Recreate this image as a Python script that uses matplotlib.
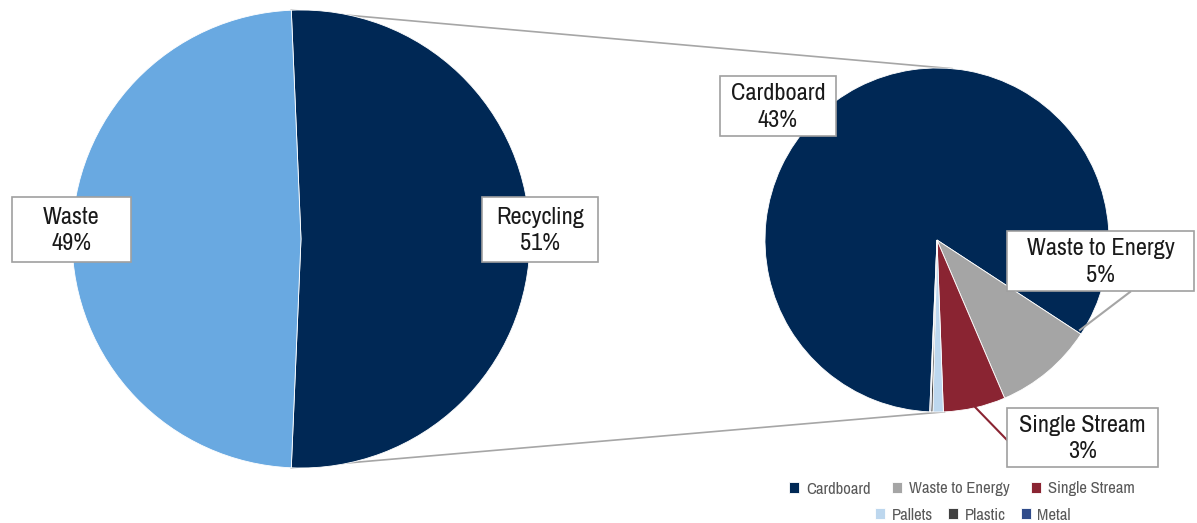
import numpy as np
import matplotlib
matplotlib.use('Agg')
import matplotlib.pyplot as plt
from matplotlib.patches import Rectangle
from matplotlib import font_manager as fm

W, H = 1197, 523

# main pie
main_labels = ['Recycling', 'Waste']
main_values = [51.35, 48.65]
main_colors = ['#002855', '#69A9E1']

# breakdown of recycling (share of total)
sub_labels = ['Cardboard', 'Waste to Energy', 'Single Stream', 'Pallets', 'Plastic', 'Metal']
sub_values = [42.9, 4.8, 3.0, 0.5, 0.1, 0.05]
sub_colors = ['#002855', '#A5A5A5', '#8A2432', '#BDD7EE', '#404040', '#2F4B8A']

# look for a narrow font, otherwise plain DejaVu
narrow = None
for f in fm.fontManager.ttflist:
    nm = (f.name + ' ' + f.fname).lower()
    if ('condensed' in nm or 'narrow' in nm) and f.weight in (400, 'normal', 'regular') \
            and f.style == 'normal' and 'light' not in nm and 'bold' not in nm:
        narrow = f
        if 'roboto' in nm or 'narrow' in nm:
            break
if narrow is not None:
    lab_font = fm.FontProperties(fname=narrow.fname, size=17.5)
    leg_font = fm.FontProperties(fname=narrow.fname, size=12)
else:
    lab_font = fm.FontProperties(family='DejaVu Sans', size=13)
    leg_font = fm.FontProperties(family='DejaVu Sans', size=9.5)

fig = plt.figure(figsize=(W / 100, H / 100), dpi=100)
ax = fig.add_axes([0, 0, 1, 1])

def py(y):
    # pixel row (from top) -> data y
    return H - y

c1 = (301, py(239)); r1 = 229
c2 = (937, py(240)); r2 = 172

half = 180 * main_values[0] / sum(main_values)
w1, _ = ax.pie(main_values, colors=main_colors, center=c1, radius=r1,
               startangle=half, counterclock=False,
               wedgeprops=dict(edgecolor='white', linewidth=0.6))
w2, _ = ax.pie(sub_values, colors=sub_colors, center=c2, radius=r2,
               startangle=-half, counterclock=False,
               wedgeprops=dict(edgecolor='white', linewidth=0.6))

# connector lines
for a1, a2 in [(half, 85), (-half, -87.5)]:
    x1 = c1[0] + r1 * np.cos(np.radians(a1)); y1 = c1[1] + r1 * np.sin(np.radians(a1))
    x2 = c2[0] + r2 * np.cos(np.radians(a2)); y2 = c2[1] + r2 * np.sin(np.radians(a2))
    ax.plot([x1, x2], [y1, y2], color='#A6A6A6', lw=1.2, zorder=0)

# leader lines
ax.plot([1130, 1080], [py(292), py(330)], color='#A5A5A5', lw=1.5, zorder=3)
ax.plot([975, 1007], [py(407), py(440)], color='#8A2432', lw=1.5, zorder=3)

# data label boxes: (text, cx, cy, w, h)
boxes = [
    (f"{main_labels[1]}\n{round(main_values[1])}%", 71.5, 229.5, 119, 65),
    (f"{main_labels[0]}\n{round(main_values[0])}%", 540, 229.5, 116, 65),
    (f"{sub_labels[0]}\n{round(sub_values[0])}%", 778, 106, 116, 60),
    (f"{sub_labels[1]}\n{round(sub_values[1])}%", 1100.5, 261, 187, 60),
    (f"{sub_labels[2]}\n{round(sub_values[2])}%", 1082.5, 437.5, 151, 59),
]
for txt, cx, cy, bw, bh in boxes:
    ax.add_patch(Rectangle((cx - bw / 2, py(cy) - bh / 2), bw, bh, facecolor='white',
                           edgecolor='#A0A0A0', lw=1.2, zorder=4))
    ax.text(cx, py(cy) - 1, txt, ha='center', va='center', fontproperties=lab_font,
            color='#1A1A1A', linespacing=1.35, zorder=5)

ax.set_xlim(0, W)
ax.set_ylim(0, H)
ax.set_aspect('equal')
ax.axis('off')

# legend in two centred rows
kw = dict(loc='center', ncol=3, frameon=False, handlelength=0.6, handleheight=0.6,
          handletextpad=0.4, prop=leg_font, labelcolor='#595959', borderpad=0)
fig.legend(w2[:3], sub_labels[:3], bbox_to_anchor=(962 / W, 1 - 489 / H),
           columnspacing=1.3, **kw)
fig.legend(w2[3:], sub_labels[3:], bbox_to_anchor=(973 / W, 1 - 515 / H),
           columnspacing=0.9, **kw)

fig.savefig('out.png', dpi=100)
